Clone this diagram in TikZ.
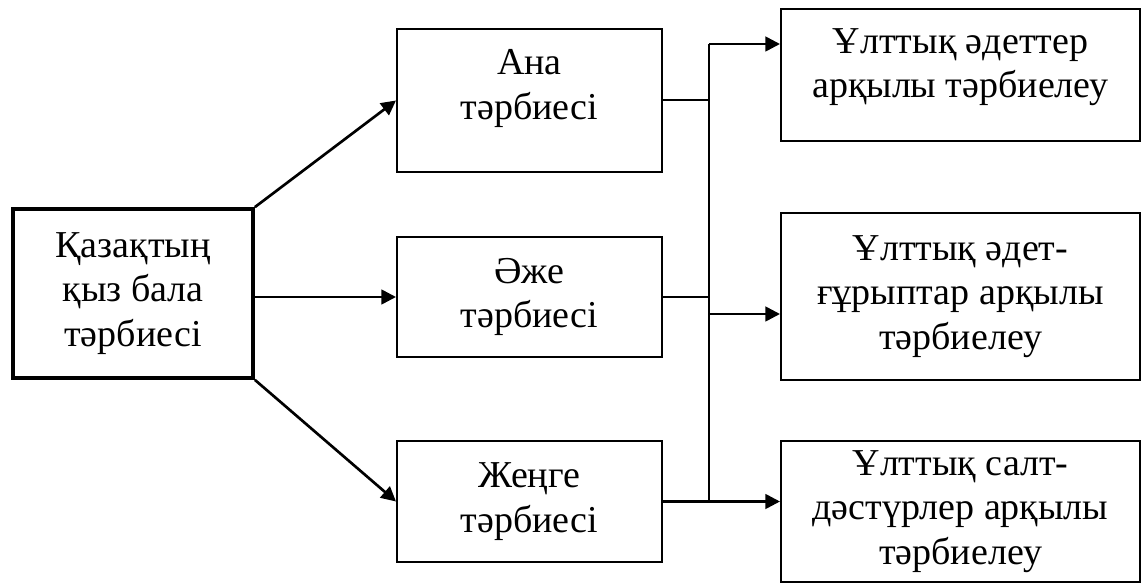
\documentclass[tikz,border=0pt]{standalone}
\usepackage{fontspec}
\setmainfont{Liberation Serif}
\usepackage{tikz}
\usetikzlibrary{arrows.meta}

\begin{document}
\begin{tikzpicture}[x=0.75pt,y=-0.75pt,>={Triangle[length=11pt,width=11pt]}]
  \tikzstyle{box}=[rectangle,draw=black,line width=1.5pt,align=center,
  		   font=\fontsize{28.5}{33.5}\selectfont,inner sep=0pt]
  \tikzstyle{main box}=[box,line width=2.8pt]
  \tikzstyle{arr}=[->,line width=2pt]
  \tikzstyle{link}=[line width=1.5pt]
  \useasboundingbox (0,0) rectangle (1142,584);
  \node [main box,minimum width=180pt,minimum height=126.75pt] (root) at (133,293.5)
    {Қазақтың\\қыз бала\\тәрбиесі};
  \node [box,minimum width=198.75pt,minimum height=107.25pt,text depth=24pt] (m1) at (529.5,100.5)
    {Ана\\тәрбиесі};
  \node [box,minimum width=198.75pt,minimum height=90pt] (m2) at (529.5,297)
    {Әже\\тәрбиесі};
  \node [box,minimum width=198.75pt,minimum height=90.75pt] (m3) at (529.5,501.5)
    {Жеңге\\тәрбиесі};
  \node [box,minimum width=269.25pt,minimum height=99pt,text depth=18pt] (r1) at (960.5,75)
    {Ұлттық әдеттер\\арқылы тәрбиелеу};
  \node [box,minimum width=269.25pt,minimum height=125.25pt] (r2) at (960.5,296.5)
    {Ұлттық әдет-\\ғұрыптар арқылы\\тәрбиелеу};
  \node [box,minimum width=269.25pt,minimum height=105.75pt] (r3) at (960.5,511.5)
    {Ұлттық салт-\\дәстүрлер арқылы\\тәрбиелеу};
  \coordinate (t1) at (709,44);
  \coordinate (t2) at (709,314);
  \coordinate (t3) at (709,501.5);
  \draw [arr] (root.north east) -- (m1.west);
  \draw [arr] (root.east |- m2) -- (m2.west);
  \draw [arr] (root.south east) -- (m3.west);
  \draw [link] (m1.east) -- (m1.east -| t1);
  \draw [link] (m2.east) -- (m2.east -| t1);
  \draw [arr,-] (m3.east) -- (t3);
  \draw [link] (t1) -- (t3);
  \draw [arr] (t1) -- (t1 -| r1.west);
  \draw [arr] (t2) -- (t2 -| r2.west);
  \draw [arr] (t3) -- (t3 -| r3.west);
\end{tikzpicture}
\end{document}
